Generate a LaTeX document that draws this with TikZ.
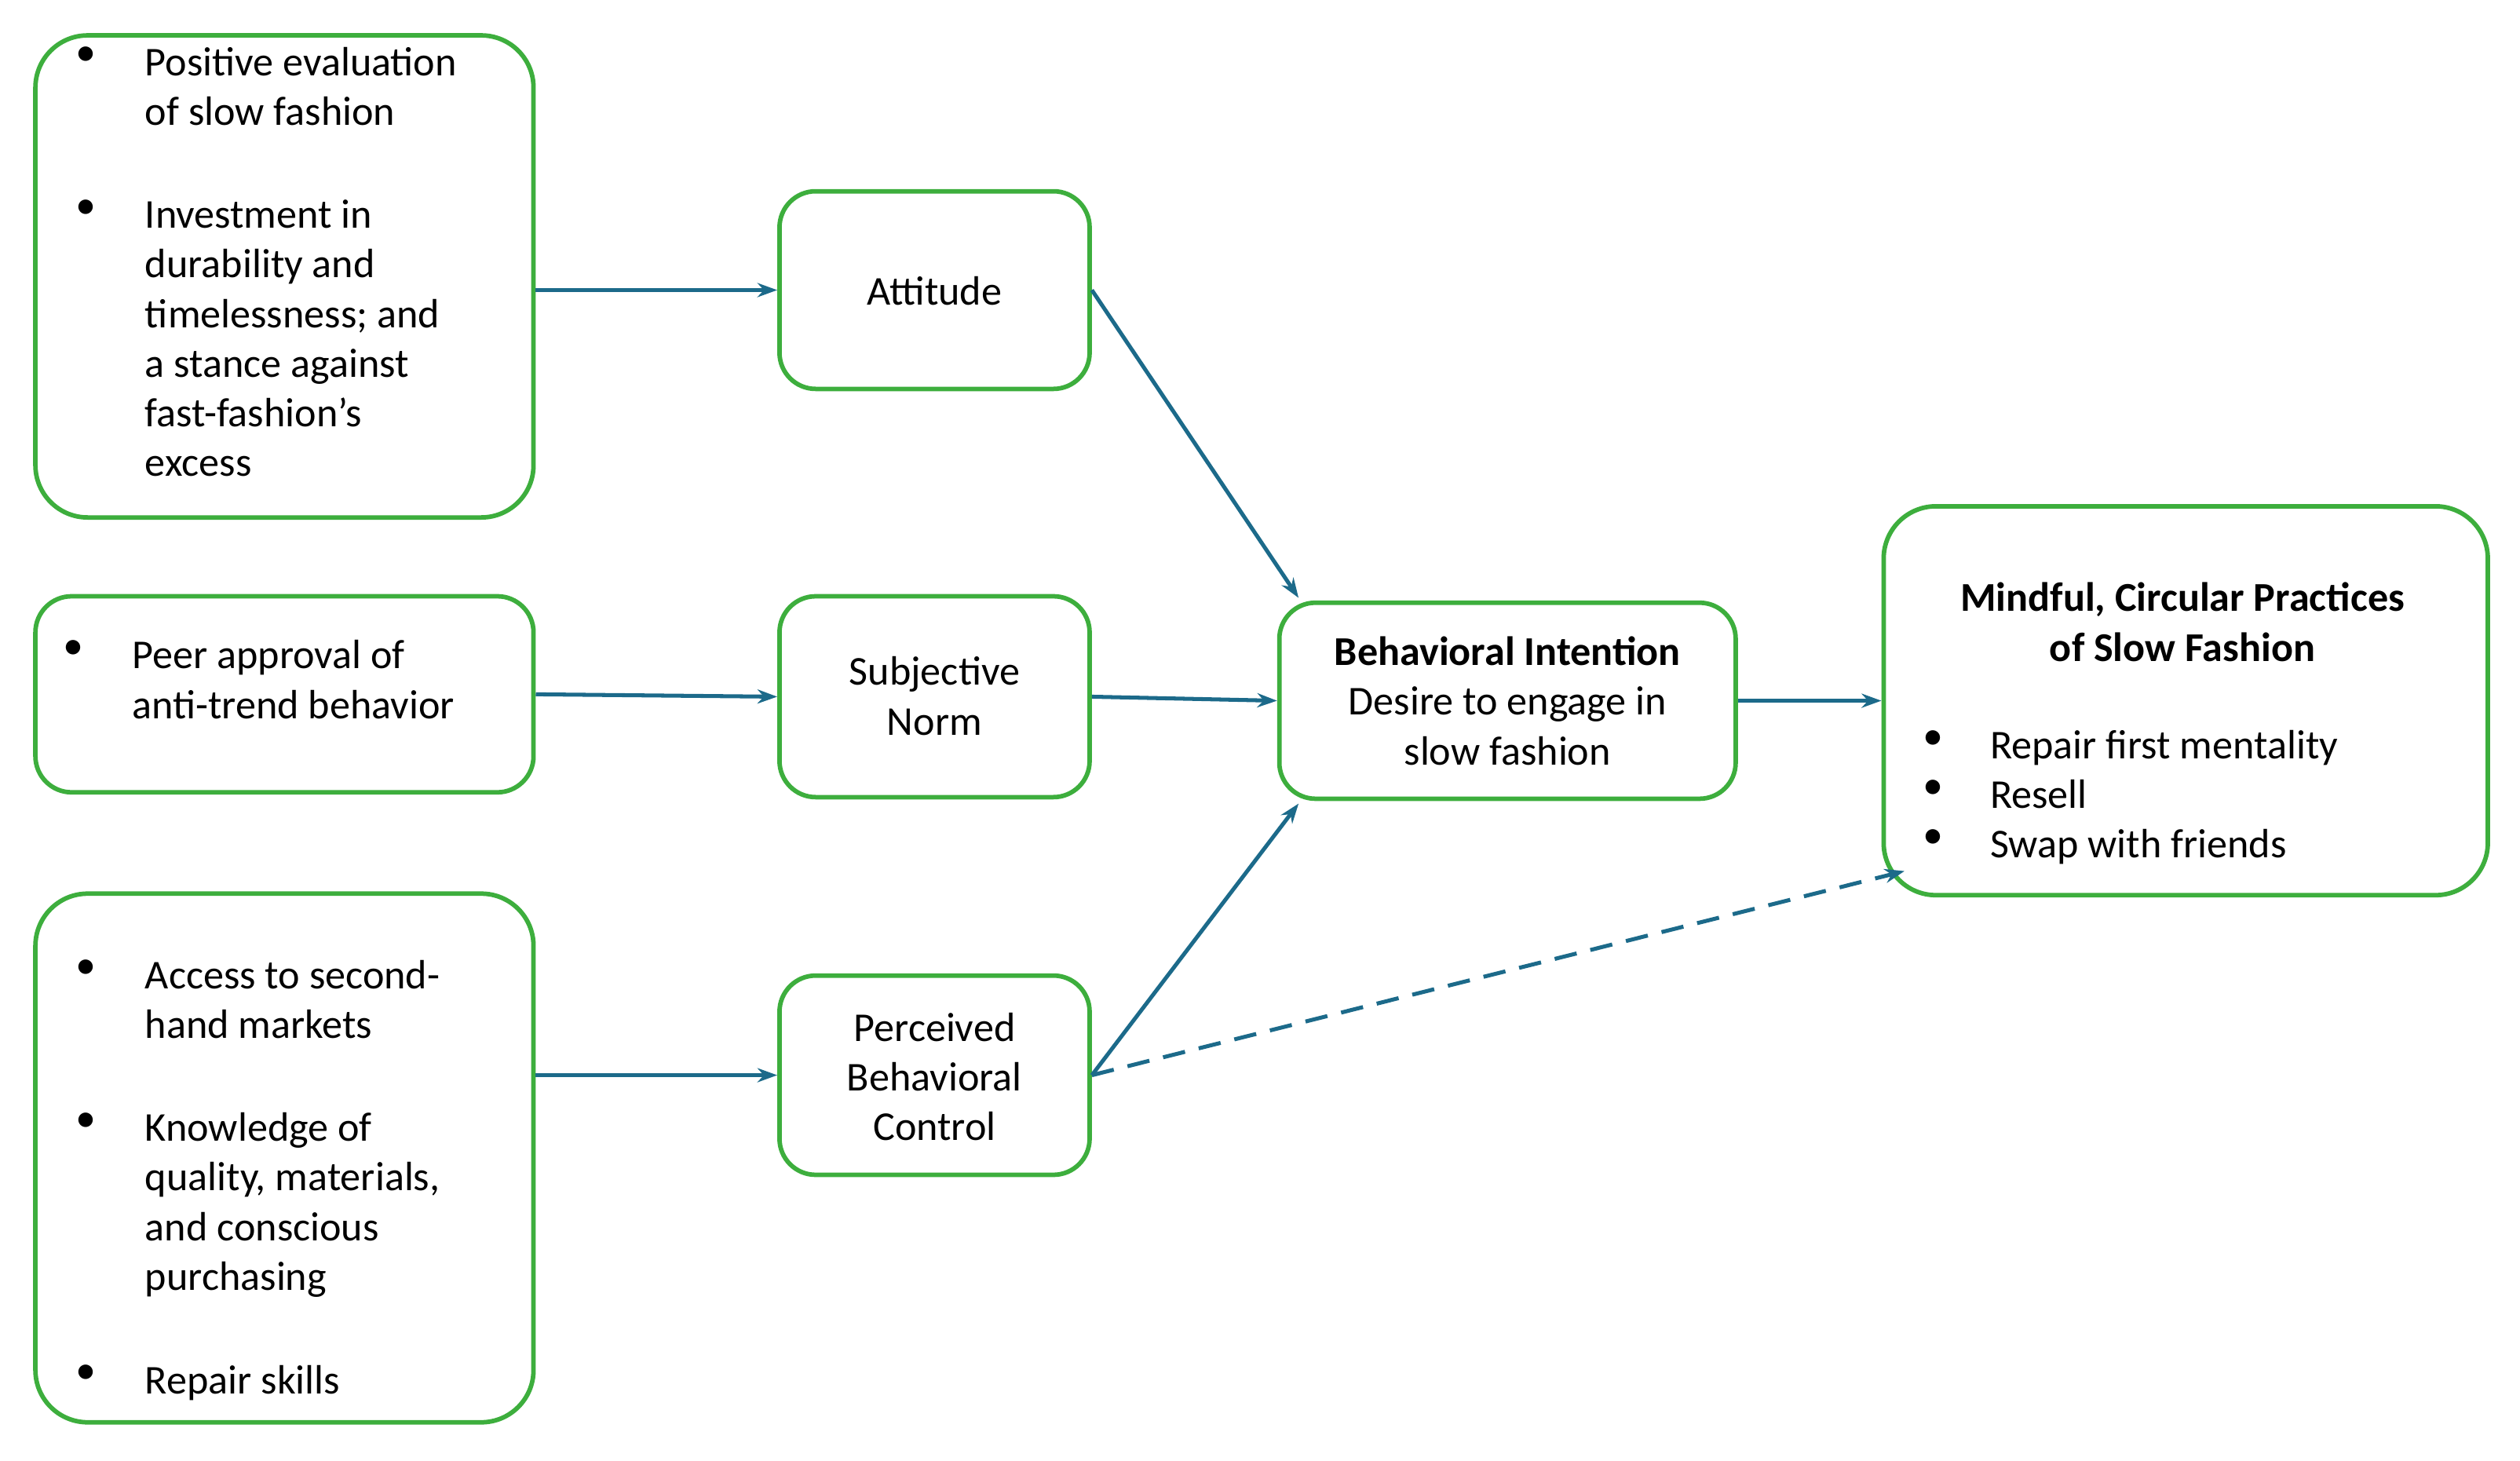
\documentclass[tikz,border=0pt]{standalone}
\usepackage{fontspec}
\setmainfont{Carlito}
\usetikzlibrary{arrows.meta}
\definecolor{gb}{HTML}{3DAE3D}
\definecolor{ar}{HTML}{1C6A8A}
\begin{document}
\begin{tikzpicture}[x=0.02cm,y=-0.02cm,
  box/.style={draw=gb,line width=1.6pt,rounded corners=#1,inner sep=0pt},
  box/.default=0.45cm,
  txt/.style={inner sep=0pt,align=left,anchor=north west,font=\fontsize{14.5}{17.6}\selectfont},
  ctr/.style={inner sep=0pt,align=center,font=\fontsize{14.5}{17.6}\selectfont},
  con/.style={draw=ar,line width=1.4pt,-{Stealth[length=7pt,width=5pt]}}]
\useasboundingbox (0,0) rectangle (1568,908.6);
% boxes
\node[box=0.65cm,minimum width=6.2cm,minimum height=6cm] (a1) at (177,172) {};
\node[box,minimum width=6.2cm,minimum height=2.44cm] (b1) at (177,432) {};
\node[box=0.65cm,minimum width=6.2cm,minimum height=6.58cm] (c1) at (177,720.5) {};
\node[box,minimum width=3.86cm,minimum height=2.46cm] (att) at (581.5,180.5) {};
\node[box,minimum width=3.86cm,minimum height=2.5cm] (sn) at (581.5,433.5) {};
\node[box,minimum width=3.86cm,minimum height=2.48cm] (pbc) at (581.5,669) {};
\node[box,minimum width=5.68cm,minimum height=2.44cm] (bi) at (938,436) {};
\node[box=0.65cm,minimum width=7.52cm,minimum height=4.84cm] (out) at (1360,436) {};
% texts
\node[txt] (t1) at (47,29) {•};
\node[txt] (t2) at (90,29) {Positive evaluation\\of slow fashion};
\node[txt] (t3) at (47,124) {•};
\node[txt] (t4) at (90,124) {Investment in\\durability and\\timelessness; and\\a stance against\\fast-fashion’s\\excess};
\node[txt] (t5) at (39,398) {•};
\node[txt] (t6) at (82,398) {Peer approval of\\anti-trend behavior};
\node[txt] (t7) at (47,597) {•};
\node[txt] (t8) at (90,597) {Access to second-\\hand markets};
\node[txt] (t9) at (47,692) {•};
\node[txt] (t10) at (90,692) {Knowledge of\\quality, materials,\\and conscious\\purchasing};
\node[txt] (t11) at (47,849) {•};
\node[txt] (t12) at (90,849) {Repair skills};
\node[ctr] (l1) at (581.5,181) {Attitude};
\node[ctr] (l2) at (581.5,433) {Subjective\\Norm};
\node[ctr] (l3) at (581.5,670) {Perceived\\Behavioral\\Control};
\node[ctr] (l4) at (938,436) {\textbf{Behavioral Intention}\\Desire to engage in\\slow fashion};
\node[ctr] (l5) at (1358,387) {\textbf{Mindful, Circular Practices}\\\textbf{of Slow Fashion}};
\node[txt] (u1) at (1196,454) {•\\•\\•};
\node[txt] (u2) at (1238,454) {Repair first mentality\\Resell\\Swap with friends};
% connectors
\draw[con] (a1.east |- att.west) -- (att.west);
\draw[con] (b1.east) -- (sn.west);
\draw[con] (c1.east |- pbc.west) -- (pbc.west);
\draw[con] (att.east) -- (808,372);
\draw[con] (sn.east) -- (bi.west);
\draw[con] (pbc.east) -- (808,500);
\draw[con] (bi.east) -- (out.west);
\draw[con,dashed,dash pattern=on 8pt off 5pt] (pbc.east) -- (1185,542);
\end{tikzpicture}
\end{document}
